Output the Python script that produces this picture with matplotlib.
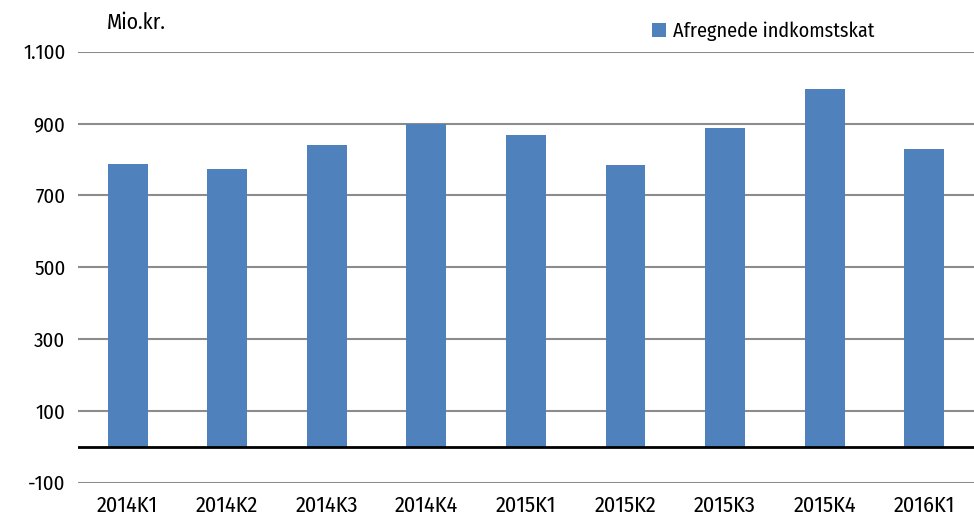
import matplotlib.pyplot as plt
from matplotlib.ticker import FuncFormatter

quarters = ['2014K1', '2014K2', '2014K3', '2014K4', '2015K1',
            '2015K2', '2015K3', '2015K4', '2016K1']
skat = [786, 774, 840, 898, 868, 784, 887, 997, 829]
yticks = [-100, 100, 300, 500, 700, 900, 1100]

plt.rcParams['font.family'] = ['Fira Sans Condensed', 'DejaVu Sans']

fig = plt.figure(figsize=(9.74, 5.16), dpi=100)
ax = fig.add_axes([0.08, 0.0645, 0.92, 0.8353])

x = range(len(quarters))
ax.bar(x, skat, width=0.4, color='#4F81BD', label='Afregnede indkomstskat', zorder=3)
ax.axhline(0, color='black', lw=2, zorder=4)

ax.set_ylim(-100, 1100)
ax.set_xlim(-0.5, len(quarters) - 0.5)
ax.set_yticks(yticks)
ax.yaxis.set_major_formatter(FuncFormatter(lambda v, p: f'{int(v):,}'.replace(',', '.')))
ax.set_xticks(list(x))
ax.set_xticklabels(quarters)
ax.grid(axis='y', color='#8c8c8c', lw=1.5, zorder=0)
ax.tick_params(axis='y', length=0, labelsize=15, pad=9)
ax.tick_params(axis='x', length=0, labelsize=16, pad=9)
for s in ax.spines.values():
    s.set_visible(False)

fig.text(0.11, 0.955, 'Mio.kr.', fontsize=15.5, va='center')
ax.legend(loc='upper left', bbox_to_anchor=(0.632, 1.088), frameon=False,
          fontsize=14.5, handlelength=0.7, handleheight=0.7, handletextpad=0.35,
          borderaxespad=0)

fig.savefig('out.png', dpi=100)
